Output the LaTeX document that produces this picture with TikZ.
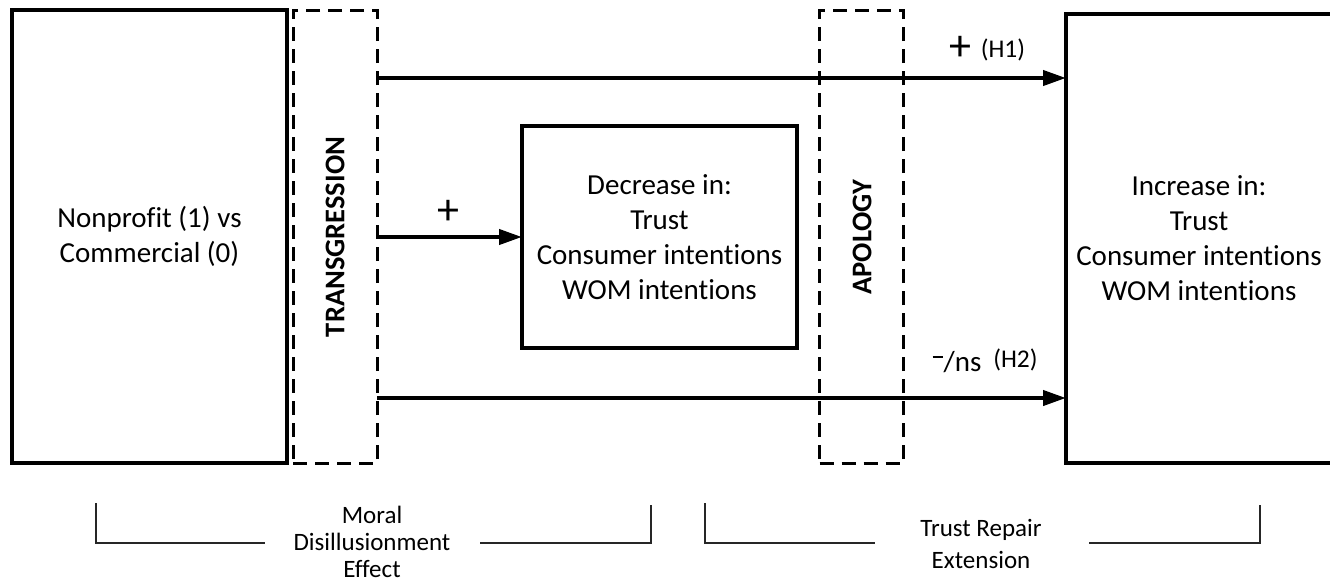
\documentclass[tikz,border=0pt]{standalone}
\usepackage{fontspec}
\setmainfont{Carlito}[Ligatures={NoCommon}]
\usetikzlibrary{arrows.meta}
\begin{document}
\begin{tikzpicture}[x=1pt,y=-1pt,
  box/.style={draw, line width=3.5pt, inner sep=0pt, outer sep=0pt, align=center,
    font=\fontsize{29}{35}\selectfont},
  dbox/.style={draw, line width=3pt, dash pattern=on 14pt off 8pt, inner sep=0pt, outer sep=0pt},
  arr/.style={line width=4pt, -{Triangle[length=23pt,width=15pt]}},
  brk/.style={line width=1.5pt, black!85},
  lbl/.style={inner sep=0pt, align=center, font=\fontsize{25}{27}\selectfont},
  sign/.style={inner sep=0pt, font=\fontsize{44}{44}\selectfont},
  hyp/.style={inner sep=0pt, font=\fontsize{25.5}{25.5}\selectfont},
  vlab/.style={rotate=90, inner sep=0pt, font=\bfseries\fontsize{28.5}{34}\selectfont}]
\useasboundingbox (0,0) rectangle (1330,587);
\clip (0,0) rectangle (1330,587);

% boxes
\node[box, minimum width=275pt, minimum height=453pt] (np) at (149.5,236.5) {Nonprofit (1) vs\\Commercial (0)};
\node[dbox, minimum width=84pt, minimum height=453pt] (tg) at (335,236.5) {};
\node[vlab] (tgl) at (335,237) {TRANSGRESSION};
\node[box, minimum width=275pt, minimum height=222pt] (dec) at (659.5,237) {Decrease in:\\Trust\\Consumer intentions\\WOM intentions};
\node[dbox, minimum width=84pt, minimum height=453pt] (ap) at (861.5,236.5) {};
\node[vlab] (apl) at (862,237) {APOLOGY};
\node[box, minimum width=266pt, minimum height=449pt] (inc) at (1199,238.5) {Increase in:\\Trust\\Consumer intentions\\WOM intentions};

% connectors
\draw[arr] (tg.east |- 0,78) -- (inc.west |- 0,78);
\draw[arr] (tg.east |- dec.west) -- (dec.west);
\draw[arr] (tg.east |- 0,398) -- (inc.west |- 0,398);

% connector labels
\node[sign] (p0) at (448,212) {+};
\node[sign] (p1) at (960,48) {+};
\node[hyp] (h1) at (1003,50) {(H1)};
\node[inner sep=0pt, font=\fontsize{29}{29}\selectfont] (ns) at (957,362) {\rule[13pt]{10pt}{2.6pt}\kern1pt/ns};
\node[hyp] (h2) at (1015.5,360) {(H2)};

% brackets
\node[lbl] (md) at (372,542) {Moral\\Disillusionment\\Effect};
\node[lbl, font=\fontsize{25}{32}\selectfont] (tr) at (981,544) {Trust Repair\\Extension};
\coordinate (mdA) at (96,503);
\coordinate (mdB) at (265,543);
\coordinate (mdC) at (480,543);
\coordinate (mdD) at (651,505);
\draw[brk] (mdA) -- (mdA |- mdB) -- (mdB);
\draw[brk] (mdC) -- (mdD |- mdC) -- (mdD);
\coordinate (trA) at (705,503);
\coordinate (trB) at (875,543);
\coordinate (trC) at (1089,543);
\coordinate (trD) at (1260,505);
\draw[brk] (trA) -- (trA |- trB) -- (trB);
\draw[brk] (trC) -- (trD |- trC) -- (trD);
\end{tikzpicture}
\end{document}
